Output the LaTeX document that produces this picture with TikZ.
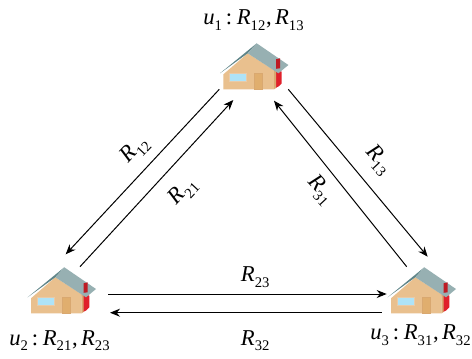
\documentclass[tikz,border=0pt]{standalone}
\usepackage{fontspec}
\setmainfont{Liberation Serif}
\usetikzlibrary{arrows.meta}
\definecolor{wallc}{HTML}{E9C08E}
\definecolor{walld}{HTML}{D9A870}
\definecolor{roofc}{HTML}{97B0B2}
\definecolor{roofd}{HTML}{5F8588}
\definecolor{doorc}{HTML}{E0AE6E}
\definecolor{winc}{HTML}{AEE3F7}
\definecolor{chim}{HTML}{E0202A}
\newcommand{\lab}[2]{\textit{#1}\raisebox{-0.26em}{\fontsize{11pt}{11pt}\selectfont #2}}
\newcommand{\trip}[3]{\lab{u}{#1}\hspace{3pt}:\hspace{3.5pt}\lab{R}{#2}\hspace{0.5pt},\hspace{2.5pt}\lab{R}{#3}}
\tikzset{
  flow/.style={draw=black,line width=0.75pt,-{Stealth[length=7.5pt,width=6pt]}},
  lbl/.style={font=\fontsize{17pt}{18pt}\selectfont,inner sep=0pt},
  house/.pic={
    \fill[chim] (17.3,26) -- (25,28.3) -- (25,40) .. controls (24,42) and (21,44) .. (18.3,45) -- cycle;
    \fill[wallc] (-33.3,31) -- (-9,10) -- (17.3,27) -- (17.3,46) -- (-33.3,46) -- cycle;
    \fill[walld] (17.3,27) -- (19.3,28) -- (19.3,44.5) -- (17.3,46) -- cycle;
    \fill[doorc,draw=walld,line width=0.4pt] (-2.3,30) rectangle (6,46);
    \fill[winc,draw=walld!60!white,line width=0.4pt] (-27.3,30) rectangle (-10,38.3);
    \fill[roofd] (-36.7,30) -- (0,0) -- (-9,10) -- cycle;
    \fill[roofc] (0,0) -- (31.7,21.7) -- (21.7,30) -- (-9,10) -- cycle;
    \fill[chim!85!black] (19.3,16) -- (23.3,15) -- (23.3,25) -- (19.3,25.5) -- cycle;
  }
}
\begin{document}
\begin{tikzpicture}[x=0.75pt,y=-0.75pt]
\useasboundingbox (0,0) rectangle (472,358);
\fill[white] (0,0) rectangle (472,358);
\pic at (256.7,43.3) {house};
\pic at (64.3,267.3) {house};
\pic at (424.3,267.3) {house};
\coordinate (a1) at (219.3,89.3);
\coordinate (a2) at (65.7,254.3);
\coordinate (b1) at (80,266.7);
\coordinate (b2) at (233.3,100);
\coordinate (c1) at (288.3,89.3);
\coordinate (c2) at (427.7,256.7);
\coordinate (d1) at (406.7,266.7);
\coordinate (d2) at (274,100.7);
\coordinate (e1) at (108.3,294);
\coordinate (e2) at (386.7,294);
\coordinate (f1) at (381.7,312.7);
\coordinate (f2) at (110,312.7);
\draw[flow] (a1) -- (a2);
\draw[flow] (b1) -- (b2);
\draw[flow] (c1) -- (c2);
\draw[flow] (d1) -- (d2);
\draw[flow] (e1) -- (e2);
\draw[flow] (f1) -- (f2);
\node[lbl,anchor=base west] (t1) at (203,24.5) {\trip{1}{12}{13}};
\node[lbl,anchor=base west] (t2) at (9,345) {\trip{2}{21}{23}};
\node[lbl,anchor=base west] (t3) at (370,339.7) {\trip{3}{31}{32}};
\node[lbl,rotate=47] (r12) at (135,150) {\lab{R}{12}};
\node[lbl,rotate=47] (r21) at (183.3,191.7) {\lab{R}{21}};
\node[lbl,rotate=-47] (r13) at (378,160) {\lab{R}{13}};
\node[lbl,rotate=-47] (r31) at (320,190) {\lab{R}{31}};
\node[lbl,anchor=base west] (r23) at (240.7,281.7) {\lab{R}{23}};
\node[lbl,anchor=base west] (r32) at (240.7,345) {\lab{R}{32}};
\end{tikzpicture}
\end{document}
